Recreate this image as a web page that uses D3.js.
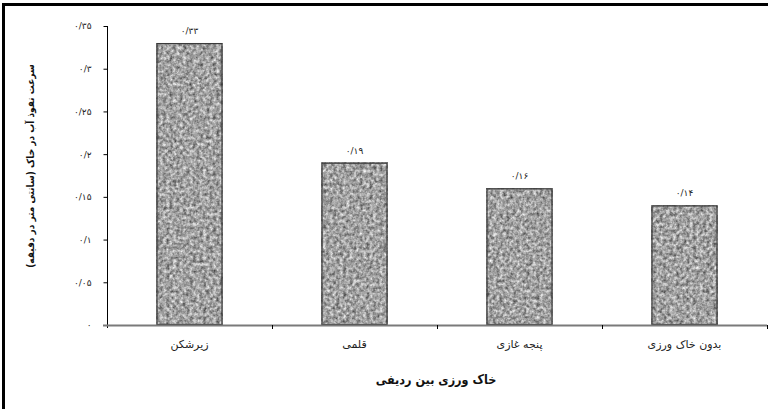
<!DOCTYPE html>
<html lang="fa">
<head>
<meta charset="utf-8">
<script src="https://cdn.jsdelivr.net/npm/d3@7"></script>
<style>
  html, body { margin: 0; padding: 0; background: #fff; }
  svg { display: block; font-family: "DejaVu Sans", sans-serif; }
</style>
</head>
<body>
<svg id="chart" width="768" height="409"></svg>
<script>
// Infiltration rate by inter-row tillage method
const categories = ["زیرشکن", "قلمی", "پنجه غازی", "بدون خاک ورزی"];
const values = [0.33, 0.19, 0.16, 0.14];
const valueLabels = ["۰/۳۳", "۰/۱۹", "۰/۱۶", "۰/۱۴"];
const tickValues = [0, 0.05, 0.1, 0.15, 0.2, 0.25, 0.3, 0.35];
const tickLabels = ["۰", "۰/۰۵", "۰/۱", "۰/۱۵", "۰/۲", "۰/۲۵", "۰/۳", "۰/۳۵"];
const xTitle = "خاک ورزی بین ردیفی";
const yTitle = "سرعت نفوذ آب در خاک (سانتی متر در دقیقه)";

const svg = d3.select("#chart");

// grainy grey fill for the bars
const defs = svg.append("defs");
const f = defs.append("filter").attr("id", "grain")
  .attr("x", 0).attr("y", 0).attr("width", 1).attr("height", 1)
  .attr("color-interpolation-filters", "sRGB");
f.append("feTurbulence").attr("type", "fractalNoise")
  .attr("baseFrequency", 0.3).attr("numOctaves", 3).attr("seed", 7).attr("result", "n");
f.append("feColorMatrix").attr("type", "saturate").attr("values", 0).attr("in", "n").attr("result", "g");
const ct = f.append("feComponentTransfer").attr("in", "g");
["feFuncR", "feFuncG", "feFuncB"].forEach(fn =>
  ct.append(fn).attr("type", "linear").attr("slope", 1.15).attr("intercept", 0.06));
ct.append("feFuncA").attr("type", "linear").attr("slope", 0).attr("intercept", 1);

// outer frame
svg.append("rect").attr("x", 3.5).attr("y", 4.5).attr("width", 800).attr("height", 450)
  .attr("fill", "none").attr("stroke", "#000").attr("stroke-width", 3);

const x = d3.scaleBand().domain(categories).range([107, 767])
  .paddingInner(0.6).paddingOuter(0.3);
const y = d3.scaleLinear().domain([0, 0.35]).range([325, 26]);

// bars
const bars = svg.append("g");
bars.selectAll("rect.fill").data(values).join("rect")
  .attr("class", "fill")
  .attr("x", (d, i) => x(categories[i]))
  .attr("y", d => y(d))
  .attr("width", x.bandwidth())
  .attr("height", d => y(0) - y(d))
  .attr("fill", "#aaa")
  .attr("filter", "url(#grain)");
bars.selectAll("rect.edge").data(values).join("rect")
  .attr("class", "edge")
  .attr("x", (d, i) => x(categories[i]) + 0.5)
  .attr("y", d => y(d) + 0.5)
  .attr("width", x.bandwidth() - 1)
  .attr("height", d => y(0) - y(d) - 1)
  .attr("fill", "none")
  .attr("stroke", "#3a3a3a")
  .attr("stroke-width", 1.2);

// value labels
svg.append("g").selectAll("text").data(values).join("text")
  .attr("x", (d, i) => x(categories[i]) + x.bandwidth() / 2)
  .attr("y", d => y(d) - 9)
  .attr("text-anchor", "middle")
  .attr("font-size", 9)
  .attr("fill", "#222")
  .text((d, i) => valueLabels[i]);

// y axis
const yAxis = d3.axisLeft(y).tickValues(tickValues)
  .tickFormat((d, i) => tickLabels[i]).tickSize(4).tickSizeOuter(0).tickPadding(12);
const gy = svg.append("g").attr("transform", "translate(107.5,0)").call(yAxis);
gy.select(".domain").attr("stroke", "#000").attr("d", `M0,${y(0.35)}V${y(0) + 3}`);
gy.selectAll(".tick line").attr("stroke", "#000");
gy.selectAll(".tick text").attr("font-size", 9).attr("fill", "#222")
  .attr("font-family", "DejaVu Sans, sans-serif");

// x axis: grey baseline with ticks between categories
const step = x.step();
const gx = svg.append("g");
gx.append("line").attr("x1", 103).attr("x2", 767).attr("y1", y(0) + 0.5).attr("y2", y(0) + 0.5)
  .attr("stroke", "#7a7a7a").attr("stroke-width", 2);
gx.selectAll("line.tk").data(d3.range(1, categories.length + 1)).join("line")
  .attr("class", "tk")
  .attr("x1", i => 107.5 + i * step).attr("x2", i => 107.5 + i * step)
  .attr("y1", y(0)).attr("y2", y(0) + 4)
  .attr("stroke", "#000");
gx.selectAll("text").data(categories).join("text")
  .attr("x", d => x(d) + x.bandwidth() / 2)
  .attr("y", 348)
  .attr("text-anchor", "middle")
  .attr("font-size", 11)
  .attr("fill", "#222")
  .text(d => d);

// axis titles
svg.append("text")
  .attr("x", 436).attr("y", 384)
  .attr("text-anchor", "middle")
  .attr("font-family", "'DejaVu Sans Condensed', 'DejaVu Sans', sans-serif")
  .attr("font-size", 12.5).attr("font-weight", "bold").attr("fill", "#111")
  .text(xTitle);
svg.append("text")
  .attr("transform", "translate(34,166) rotate(-90)")
  .attr("text-anchor", "middle")
  .attr("font-family", "'DejaVu Sans Condensed', 'DejaVu Sans', sans-serif")
  .attr("font-size", 10).attr("font-weight", "bold").attr("fill", "#111")
  .text(yTitle);
</script>
</body>
</html>
